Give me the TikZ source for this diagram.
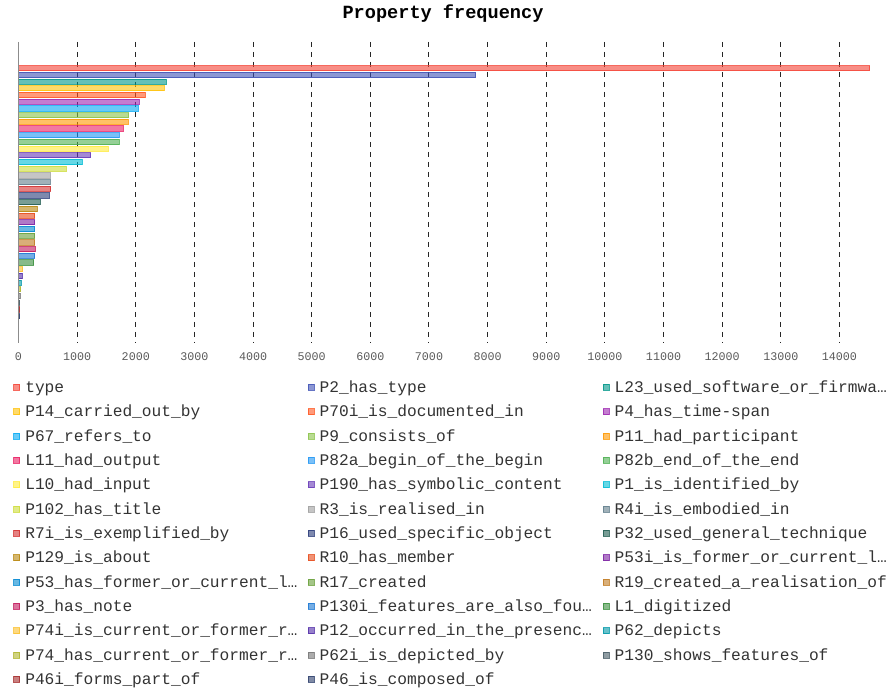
\documentclass[tikz,border=0pt]{standalone}
\usepackage{fontspec}
\setmonofont{Liberation Mono}
\usetikzlibrary{positioning}
\definecolor{cType}{HTML}{F44336}
\definecolor{cPtwo}{HTML}{3F51B5}
\definecolor{cLtwothree}{HTML}{009688}
\definecolor{cPfourteen}{HTML}{FFC107}
\definecolor{cPseventy}{HTML}{FF5722}
\definecolor{cPfour}{HTML}{9C27B0}
\definecolor{cPsixtyseven}{HTML}{03A9F4}
\definecolor{cPnine}{HTML}{8BC34A}
\definecolor{cPeleven}{HTML}{FF9800}
\definecolor{cLeleven}{HTML}{E91E63}
\definecolor{cPbegin}{HTML}{2196F3}
\definecolor{cPend}{HTML}{4CAF50}
\definecolor{cLten}{HTML}{FFEB3B}
\definecolor{cPsymbolic}{HTML}{673AB7}
\definecolor{cPone}{HTML}{00BCD4}
\definecolor{cPtitle}{HTML}{CDDC39}
\definecolor{cRthree}{HTML}{9E9E9E}
\definecolor{cRfour}{HTML}{607D8B}
\definecolor{cRseven}{HTML}{D32F2F}
\definecolor{cPsixteen}{HTML}{283A78}
\definecolor{cPthirtytwo}{HTML}{1E5B4F}
\definecolor{cPabout}{HTML}{B8860B}
\definecolor{cRten}{HTML}{E64A19}
\definecolor{cPfiftythreei}{HTML}{7B1FA2}
\definecolor{cPfiftythree}{HTML}{0288D1}
\definecolor{cRseventeen}{HTML}{689F38}
\definecolor{cRnineteen}{HTML}{C07A20}
\definecolor{cPnote}{HTML}{C2185B}
\definecolor{cPfeatures}{HTML}{1976D2}
\definecolor{cLone}{HTML}{388E3C}
\definecolor{cPseventyfouri}{HTML}{FBC02D}
\definecolor{cPtwelve}{HTML}{512DA8}
\definecolor{cPdepicts}{HTML}{0097A7}
\definecolor{cPseventyfour}{HTML}{AFB42B}
\definecolor{cPdepicted}{HTML}{757575}
\definecolor{cPshows}{HTML}{455A64}
\definecolor{cPpart}{HTML}{A52A2A}
\definecolor{cPcomposed}{HTML}{2C3E6B}
\begin{document}
\begin{tikzpicture}[x=1pt,y=-1pt]
  \tikzstyle{title}=[font=\ttfamily\bfseries\fontsize{18.6}{20}\selectfont, anchor=base]
  \tikzstyle{tick}=[font=\ttfamily\fontsize{11.7}{13}\selectfont, text=black!65, anchor=base, inner sep=0pt]
  \tikzstyle{entry}=[font=\ttfamily\fontsize{16.2}{18}\selectfont, text=black!80, inner sep=0pt, text height=11pt, text depth=0.4pt]
  \tikzstyle{grid}=[draw=black!85, line width=1pt, dash pattern=on 5pt off 5pt]
  \tikzstyle{axisline}=[draw=black!45, line width=1.6pt]
  \tikzset{bar/.style={draw=#1, fill=#1, fill opacity=0.6, draw opacity=0.8, line width=1pt}}
  \tikzset{swatch/.style={rectangle, minimum size=6pt, inner sep=0pt, draw=#1, fill=#1, fill opacity=0.6, draw opacity=0.8, line width=0.8pt}}
  \useasboundingbox (0,0) rectangle (891,692);
  % headers
  \node[title] (title) at (443,19) {Property frequency};
  \begin{scope}[xshift=18.5pt, x=0.05864pt]
  % grid
  \draw[grid] (1000,42) -- (1000,343);
  \draw[grid] (2000,42) -- (2000,343);
  \draw[grid] (3000,42) -- (3000,343);
  \draw[grid] (4000,42) -- (4000,343);
  \draw[grid] (5000,42) -- (5000,343);
  \draw[grid] (6000,42) -- (6000,343);
  \draw[grid] (7000,42) -- (7000,343);
  \draw[grid] (8000,42) -- (8000,343);
  \draw[grid] (9000,42) -- (9000,343);
  \draw[grid] (10000,42) -- (10000,343);
  \draw[grid] (11000,42) -- (11000,343);
  \draw[grid] (12000,42) -- (12000,343);
  \draw[grid] (13000,42) -- (13000,343);
  \draw[grid] (14000,42) -- (14000,343);
  % bars
  \draw[bar=cType] (0,65.7) rectangle +(14520,5.2);
  \draw[bar=cPtwo] (0,72.4) rectangle +(7800,5.2);
  \draw[bar=cLtwothree] (0,79.1) rectangle +(2517,5.2);
  \draw[bar=cPfourteen] (0,85.8) rectangle +(2483,5.2);
  \draw[bar=cPseventy] (0,92.5) rectangle +(2159,5.2);
  \draw[bar=cPfour] (0,99.2) rectangle +(2062,5.2);
  \draw[bar=cPsixtyseven] (0,105.9) rectangle +(2045,5.2);
  \draw[bar=cPnine] (0,112.6) rectangle +(1880,5.2);
  \draw[bar=cPeleven] (0,119.3) rectangle +(1869,5.2);
  \draw[bar=cLeleven] (0,126.0) rectangle +(1783,5.2);
  \draw[bar=cPbegin] (0,132.7) rectangle +(1715,5.2);
  \draw[bar=cPend] (0,139.4) rectangle +(1715,5.2);
  \draw[bar=cLten] (0,146.1) rectangle +(1533,5.2);
  \draw[bar=cPsymbolic] (0,152.8) rectangle +(1232,5.2);
  \draw[bar=cPone] (0,159.5) rectangle +(1089,5.2);
  \draw[bar=cPtitle] (0,166.2) rectangle +(816,5.2);
  \draw[bar=cRthree] (0,172.9) rectangle +(543,5.2);
  \draw[bar=cRfour] (0,179.6) rectangle +(543,5.2);
  \draw[bar=cRseven] (0,186.3) rectangle +(548,5.2);
  \draw[bar=cPsixteen] (0,193.0) rectangle +(526,5.2);
  \draw[bar=cPthirtytwo] (0,199.7) rectangle +(367,5.2);
  \draw[bar=cPabout] (0,206.4) rectangle +(321,5.2);
  \draw[bar=cRten] (0,213.1) rectangle +(276,5.2);
  \draw[bar=cPfiftythreei] (0,219.8) rectangle +(276,5.2);
  \draw[bar=cPfiftythree] (0,226.5) rectangle +(276,5.2);
  \draw[bar=cRseventeen] (0,233.2) rectangle +(276,5.2);
  \draw[bar=cRnineteen] (0,239.9) rectangle +(276,5.2);
  \draw[bar=cPnote] (0,246.6) rectangle +(282,5.2);
  \draw[bar=cPfeatures] (0,253.3) rectangle +(276,5.2);
  \draw[bar=cLone] (0,260.0) rectangle +(264,5.2);
  \draw[bar=cPseventyfouri] (0,266.7) rectangle +(71,5.2);
  \draw[bar=cPtwelve] (0,273.4) rectangle +(60,5.2);
  \draw[bar=cPdepicts] (0,280.1) rectangle +(43,5.2);
  \draw[bar=cPseventyfour] (0,286.8) rectangle +(37,5.2);
  \draw[bar=cPdepicted] (0,293.5) rectangle +(32,5.2);
  \draw[bar=cPshows] (0,300.2) rectangle +(17,5.2);
  \draw[bar=cPpart] (0,306.9) rectangle +(20,5.2);
  \draw[bar=cPcomposed] (0,313.6) rectangle +(17,5.2);
  % axis
  \draw[axisline] (0,42) -- (0,343);
  \node[tick] (t0) at (0,360.7) {0};
  \node[tick] (t1000) at (1000,360.7) {1000};
  \node[tick] (t2000) at (2000,360.7) {2000};
  \node[tick] (t3000) at (3000,360.7) {3000};
  \node[tick] (t4000) at (4000,360.7) {4000};
  \node[tick] (t5000) at (5000,360.7) {5000};
  \node[tick] (t6000) at (6000,360.7) {6000};
  \node[tick] (t7000) at (7000,360.7) {7000};
  \node[tick] (t8000) at (8000,360.7) {8000};
  \node[tick] (t9000) at (9000,360.7) {9000};
  \node[tick] (t10000) at (10000,360.7) {10000};
  \node[tick] (t11000) at (11000,360.7) {11000};
  \node[tick] (t12000) at (12000,360.7) {12000};
  \node[tick] (t13000) at (13000,360.7) {13000};
  \node[tick] (t14000) at (14000,360.7) {14000};
  \end{scope}
  % legend
  \node[swatch=cType] (ktype) at (16.7,387.3) {};
  \node[entry, right=5pt of ktype] (ltype) {type};
  \node[swatch=cPtwo] (kPtwo) at (311,387.3) {};
  \node[entry, right=5pt of kPtwo] (lPtwo) {P2\_has\_type};
  \node[swatch=cLtwothree] (kLtwothree) at (606,387.3) {};
  \node[entry, right=5pt of kLtwothree] (lLtwothree) {L23\_used\_software\_or\_firmwa…};
  \node[swatch=cPfourteen] (kPfourteen) at (16.7,411.6) {};
  \node[entry, right=5pt of kPfourteen] (lPfourteen) {P14\_carried\_out\_by};
  \node[swatch=cPseventy] (kPseventy) at (311,411.6) {};
  \node[entry, right=5pt of kPseventy] (lPseventy) {P70i\_is\_documented\_in};
  \node[swatch=cPfour] (kPfour) at (606,411.6) {};
  \node[entry, right=5pt of kPfour] (lPfour) {P4\_has\_time-span};
  \node[swatch=cPsixtyseven] (kPsixtyseven) at (16.7,436.0) {};
  \node[entry, right=5pt of kPsixtyseven] (lPsixtyseven) {P67\_refers\_to};
  \node[swatch=cPnine] (kPnine) at (311,436.0) {};
  \node[entry, right=5pt of kPnine] (lPnine) {P9\_consists\_of};
  \node[swatch=cPeleven] (kPeleven) at (606,436.0) {};
  \node[entry, right=5pt of kPeleven] (lPeleven) {P11\_had\_participant};
  \node[swatch=cLeleven] (kLeleven) at (16.7,460.3) {};
  \node[entry, right=5pt of kLeleven] (lLeleven) {L11\_had\_output};
  \node[swatch=cPbegin] (kPbegin) at (311,460.3) {};
  \node[entry, right=5pt of kPbegin] (lPbegin) {P82a\_begin\_of\_the\_begin};
  \node[swatch=cPend] (kPend) at (606,460.3) {};
  \node[entry, right=5pt of kPend] (lPend) {P82b\_end\_of\_the\_end};
  \node[swatch=cLten] (kLten) at (16.7,484.6) {};
  \node[entry, right=5pt of kLten] (lLten) {L10\_had\_input};
  \node[swatch=cPsymbolic] (kPsymbolic) at (311,484.6) {};
  \node[entry, right=5pt of kPsymbolic] (lPsymbolic) {P190\_has\_symbolic\_content};
  \node[swatch=cPone] (kPone) at (606,484.6) {};
  \node[entry, right=5pt of kPone] (lPone) {P1\_is\_identified\_by};
  \node[swatch=cPtitle] (kPtitle) at (16.7,509.0) {};
  \node[entry, right=5pt of kPtitle] (lPtitle) {P102\_has\_title};
  \node[swatch=cRthree] (kRthree) at (311,509.0) {};
  \node[entry, right=5pt of kRthree] (lRthree) {R3\_is\_realised\_in};
  \node[swatch=cRfour] (kRfour) at (606,509.0) {};
  \node[entry, right=5pt of kRfour] (lRfour) {R4i\_is\_embodied\_in};
  \node[swatch=cRseven] (kRseven) at (16.7,533.3) {};
  \node[entry, right=5pt of kRseven] (lRseven) {R7i\_is\_exemplified\_by};
  \node[swatch=cPsixteen] (kPsixteen) at (311,533.3) {};
  \node[entry, right=5pt of kPsixteen] (lPsixteen) {P16\_used\_specific\_object};
  \node[swatch=cPthirtytwo] (kPthirtytwo) at (606,533.3) {};
  \node[entry, right=5pt of kPthirtytwo] (lPthirtytwo) {P32\_used\_general\_technique};
  \node[swatch=cPabout] (kPabout) at (16.7,557.6) {};
  \node[entry, right=5pt of kPabout] (lPabout) {P129\_is\_about};
  \node[swatch=cRten] (kRten) at (311,557.6) {};
  \node[entry, right=5pt of kRten] (lRten) {R10\_has\_member};
  \node[swatch=cPfiftythreei] (kPfiftythreei) at (606,557.6) {};
  \node[entry, right=5pt of kPfiftythreei] (lPfiftythreei) {P53i\_is\_former\_or\_current\_l…};
  \node[swatch=cPfiftythree] (kPfiftythree) at (16.7,582.0) {};
  \node[entry, right=5pt of kPfiftythree] (lPfiftythree) {P53\_has\_former\_or\_current\_l…};
  \node[swatch=cRseventeen] (kRseventeen) at (311,582.0) {};
  \node[entry, right=5pt of kRseventeen] (lRseventeen) {R17\_created};
  \node[swatch=cRnineteen] (kRnineteen) at (606,582.0) {};
  \node[entry, right=5pt of kRnineteen] (lRnineteen) {R19\_created\_a\_realisation\_of};
  \node[swatch=cPnote] (kPnote) at (16.7,606.3) {};
  \node[entry, right=5pt of kPnote] (lPnote) {P3\_has\_note};
  \node[swatch=cPfeatures] (kPfeatures) at (311,606.3) {};
  \node[entry, right=5pt of kPfeatures] (lPfeatures) {P130i\_features\_are\_also\_fou…};
  \node[swatch=cLone] (kLone) at (606,606.3) {};
  \node[entry, right=5pt of kLone] (lLone) {L1\_digitized};
  \node[swatch=cPseventyfouri] (kPseventyfouri) at (16.7,630.6) {};
  \node[entry, right=5pt of kPseventyfouri] (lPseventyfouri) {P74i\_is\_current\_or\_former\_r…};
  \node[swatch=cPtwelve] (kPtwelve) at (311,630.6) {};
  \node[entry, right=5pt of kPtwelve] (lPtwelve) {P12\_occurred\_in\_the\_presenc…};
  \node[swatch=cPdepicts] (kPdepicts) at (606,630.6) {};
  \node[entry, right=5pt of kPdepicts] (lPdepicts) {P62\_depicts};
  \node[swatch=cPseventyfour] (kPseventyfour) at (16.7,655.0) {};
  \node[entry, right=5pt of kPseventyfour] (lPseventyfour) {P74\_has\_current\_or\_former\_r…};
  \node[swatch=cPdepicted] (kPdepicted) at (311,655.0) {};
  \node[entry, right=5pt of kPdepicted] (lPdepicted) {P62i\_is\_depicted\_by};
  \node[swatch=cPshows] (kPshows) at (606,655.0) {};
  \node[entry, right=5pt of kPshows] (lPshows) {P130\_shows\_features\_of};
  \node[swatch=cPpart] (kPpart) at (16.7,679.3) {};
  \node[entry, right=5pt of kPpart] (lPpart) {P46i\_forms\_part\_of};
  \node[swatch=cPcomposed] (kPcomposed) at (311,679.3) {};
  \node[entry, right=5pt of kPcomposed] (lPcomposed) {P46\_is\_composed\_of};
\end{tikzpicture}
\end{document}
